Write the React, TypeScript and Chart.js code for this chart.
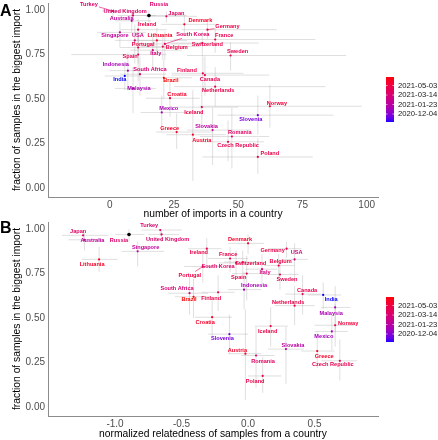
import React, { useEffect, useRef } from "react";
import { Chart, registerables } from "chart.js";
Chart.register(...registerables);

// ---------------- data ----------------
const countries = [
  "Turkey", "United Kingdom", "Russia", "Japan", "Australia", "Ireland", "Denmark", "Germany",
  "France", "Singapore", "USA", "Lithuania", "South Korea", "Portugal", "Belgium", "Switzerland",
  "Sweden", "Italy", "Spain", "Indonesia", "South Africa", "Finland", "Canada", "India", "Brazil",
  "Malaysia", "Netherlands", "Croatia", "Norway", "Slovenia", "Mexico", "Iceland", "Greece",
  "Slovakia", "Austria", "Romania", "Czech Republic", "Poland",
];

const sampleDates = [
  "2021-03-20", "2021-03-25", "2021-03-25", "2021-04-01", "2021-02-01", "2021-04-25", "2021-05-25", "2021-04-25",
  "2021-04-22", "2021-02-05", "2021-03-01", "2021-05-28", "2021-03-28", "2021-04-28", "2021-04-28", "2021-04-25",
  "2021-04-22", "2021-03-05", "2021-04-15", "2021-01-05", "2021-03-15", "2021-04-25", "2021-04-20", "2020-10-23", "2021-06-17",
  "2021-01-08", "2021-04-25", "2021-05-25", "2021-05-10", "2020-11-25", "2021-01-03", "2021-04-28", "2021-05-25",
  "2021-01-28", "2021-05-25", "2021-04-01", "2021-04-20", "2021-04-25",
];

// fraction of samples in the biggest import (shared y)
const fracBiggest = [
  0.995, 0.97, 0.97, 0.965, 0.94, 0.89, 0.92, 0.89,
  0.835, 0.875, 0.83, 0.83, 0.81, 0.79, 0.795, 0.815,
  0.745, 0.775, 0.75, 0.66, 0.64, 0.645, 0.635, 0.63, 0.62,
  0.56, 0.57, 0.505, 0.46, 0.41, 0.425, 0.455, 0.315,
  0.326, 0.30, 0.29, 0.26, 0.175,
];
const fracLow = [
  0.96, 0.93, 0.93, 0.93, 0.88, 0.80, 0.86, 0.84,
  0.76, 0.79, 0.70, 0.76, 0.72, 0.70, 0.72, 0.74,
  0.66, 0.68, 0.60, 0.55, 0.52, 0.54, 0.52, 0.55, 0.50,
  0.42, 0.46, 0.40, 0.34, 0.30, 0.32, 0.34, 0.22,
  0.13, 0.04, 0.11, 0.15, 0.08,
];
const fracHigh = [
  1.0, 0.99, 1.0, 0.99, 0.98, 0.95, 0.97, 0.93,
  0.90, 0.93, 0.92, 0.90, 0.88, 0.87, 0.86, 0.88,
  0.82, 0.86, 0.85, 0.76, 0.74, 0.74, 0.74, 0.70, 0.72,
  0.68, 0.68, 0.60, 0.58, 0.52, 0.52, 0.56, 0.42,
  0.45, 0.55, 0.45, 0.38, 0.28,
];

// panel A: number of imports in a country
const importCount = [
  1.2, 9, 15.2, 22, 8.5, 11, 29, 38,
  41, 3.9, 9.7, 18.3, 21.4, 11, 20.6, 36,
  47, 16.7, 11, 7, 11.7, 36.2, 37, 5.8, 21,
  9, 41, 23.4, 62.3, 57.6, 20.2, 35.8, 26,
  40, 32.3, 47.5, 46, 57.6,
];
const importLow = [
  -3, 3, 8, 14, 2, 4, 20, 28,
  25, -5, 2, 10, 12, 4, 12, 24,
  30, 8, -15, 0, 4, 24, 24, -2, 12,
  2, 25, 14, 35, 42, 12, 25, 18,
  30, 22, 35, 35, 36,
];
const importHigh = [
  8, 18, 30, 34, 16, 22, 42, 65,
  80, 14, 20, 30, 35, 22, 35, 58,
  92, 28, 22, 15, 22, 52, 62, 12, 32,
  18, 84, 35, 98, 87, 30, 50, 40,
  55, 45, 62, 60, 79,
];

// panel B: normalized relatedness of samples from a country
const relatedness = [
  -0.66, -0.65, -0.895, -1.24, -1.23, -0.31, 0.0, 0.29,
  -0.135, -0.83, 0.35, -1.12, -0.09, -0.34, 0.23, -0.04,
  0.24, 0.105, -0.01, -0.03, -0.44, -0.225, 0.41, 0.565, -0.41,
  0.655, 0.35, -0.27, 0.655, -0.14, 0.63, 0.17, 0.52,
  0.285, -0.02, 0.06, 0.69, 0.11,
];
const relatedLow = [
  -0.8, -0.75, -1.0, -1.4, -1.35, -0.45, -0.15, 0.15,
  -0.3, -0.95, 0.25, -1.25, -0.22, -0.48, 0.12, -0.18,
  0.12, -0.02, -0.12, -0.15, -0.6, -0.35, 0.28, 0.45, -0.55,
  0.55, 0.2, -0.4, 0.5, -0.3, 0.5, 0.05, 0.4,
  0.15, -0.15, -0.05, 0.55, 0.0,
];
const relatedHigh = [
  -0.5, -0.52, -0.78, -1.05, -1.1, -0.2, 0.12, 0.4,
  0.0, -0.63, 0.45, -0.98, 0.05, -0.2, 0.35, 0.1,
  0.38, 0.22, 0.1, 0.1, -0.3, -0.1, 0.55, 0.7, -0.28,
  0.77, 0.5, -0.12, 0.8, 0.0, 0.75, 0.3, 0.65,
  0.42, 0.1, 0.2, 0.82, 0.25,
];

const markedCountry = "Russia"; // drawn as black point
const yTicks = [0, 0.25, 0.5, 0.75, 1];
const xTicksA = [0, 25, 50, 75, 100];
const xTicksB = [-1, -0.5, 0, 0.5];
const legendTicks = ["2020-12-04", "2021-01-23", "2021-03-14", "2021-05-03"];

// ---------------- layout (label offsets in px) ----------------
const labelOffsetA: Record<string, [number, number]> = {
  Turkey: [-24, -7], "United Kingdom": [-8, -4], Russia: [10, -11], Japan: [10, -3],
  Australia: [-10, -2], Ireland: [9, -5], Denmark: [16, -4], Germany: [20, -3],
  France: [9, -4], Singapore: [-5, 3], USA: [3, -5], Lithuania: [3, -5],
  "South Korea": [28, -9], Portugal: [5, -3.5], Belgium: [14, 1], Switzerland: [5, 1],
  Sweden: [7, -4], Italy: [3, 3], Spain: [-8, 2], Indonesia: [-12, -6],
  "South Africa": [10, -5], Finland: [-16, -3], Canada: [5, 4], India: [-5, 3],
  Brazil: [7, 3], Malaysia: [6, 0], Netherlands: [3, 4], Croatia: [7, -4],
  Norway: [7, -3], Slovenia: [-7, 4], Mexico: [7, -4], Iceland: [-8, 5],
  Greece: [-7, -4], Slovakia: [-6, -4], Austria: [9, 6], Romania: [8, -4.5],
  "Czech Republic": [10, 4], Poland: [12, -4],
};
const labelOffsetB: Record<string, [number, number]> = {
  Turkey: [-11, -5], "United Kingdom": [6, 5], Russia: [-10, 6], Japan: [-5, -4],
  Australia: [8, 1], Ireland: [-8, 4], Denmark: [-8, -4], Germany: [-14, 2],
  France: [-2, -4.5], Singapore: [8, -4], USA: [2, -7], Lithuania: [-7, 5],
  "South Korea": [-18, 4], Portugal: [-13, 8.5], Belgium: [2, -4.5], Switzerland: [8, 1],
  Sweden: [7, 4.5], Italy: [3, 3], Spain: [-8, 3.5], Indonesia: [10, -4.5],
  "South Africa": [-12.5, -5], Finland: [-7, 6], Canada: [4.5, -4], India: [8, 4],
  Brazil: [-4.5, 3], Malaysia: [-4, 6.5], Netherlands: [-6.5, -3.5], Croatia: [-7, 5],
  Norway: [13, -2], Slovenia: [-7, 4], Mexico: [-8, 4.5], Iceland: [-3, 5],
  Greece: [7, 5], Slovakia: [7, -4], Austria: [-8, -3], Romania: [7, 5.5],
  "Czech Republic": [-7, 4], Poland: [-7.5, 5],
};
const segmentsA = ["Turkey", "Germany", "South Korea"];
const segmentsB = ["Portugal"];

const FONT = "'Liberation Sans', Arial, Helvetica, sans-serif";

// ---------------- colour scale (blue -> red, Lab interpolation) ----------------
function toLin(c: number) {
  c /= 255;
  return c <= 0.04045 ? c / 12.92 : Math.pow((c + 0.055) / 1.055, 2.4);
}
function fromLin(c: number) {
  const v = c <= 0.0031308 ? 12.92 * c : 1.055 * Math.pow(c, 1 / 2.4) - 0.055;
  return Math.round(Math.max(0, Math.min(1, v)) * 255);
}
function rgbToLab(rgb: number[]) {
  const R = toLin(rgb[0]), G = toLin(rgb[1]), B = toLin(rgb[2]);
  const X = (0.4124 * R + 0.3576 * G + 0.1805 * B) / 0.95047;
  const Y = 0.2126 * R + 0.7152 * G + 0.0722 * B;
  const Z = (0.0193 * R + 0.1192 * G + 0.9505 * B) / 1.08883;
  const f = (t: number) => (t > 0.008856 ? Math.cbrt(t) : 7.787 * t + 16 / 116);
  const fx = f(X), fy = f(Y), fz = f(Z);
  return [116 * fy - 16, 500 * (fx - fy), 200 * (fy - fz)];
}
function labToRgb(lab: number[]) {
  const fy = (lab[0] + 16) / 116, fx = fy + lab[1] / 500, fz = fy - lab[2] / 200;
  const inv = (t: number) => (t * t * t > 0.008856 ? t * t * t : (t - 16 / 116) / 7.787);
  const X = inv(fx) * 0.95047, Y = inv(fy), Z = inv(fz) * 1.08883;
  const R = 3.2406 * X - 1.5372 * Y - 0.4986 * Z;
  const G = -0.9689 * X + 1.8758 * Y + 0.0415 * Z;
  const B = 0.0557 * X - 0.204 * Y + 1.057 * Z;
  return [fromLin(R), fromLin(G), fromLin(B)];
}
const LAB_LOW = rgbToLab([0, 0, 255]);
const LAB_HIGH = rgbToLab([255, 0, 0]);
const dateNums = sampleDates.map((d) => Date.parse(d));
const dMin = Math.min(...dateNums);
const dMax = Math.max(...dateNums);
function colorAt(f: number) {
  const lab = LAB_LOW.map((v, k) => v + (LAB_HIGH[k] - v) * f);
  const c = labToRgb(lab);
  return `rgb(${c[0]},${c[1]},${c[2]})`;
}
function dateFrac(d: string) {
  return (Date.parse(d) - dMin) / (dMax - dMin);
}

// ---------------- chart ----------------
function buildChart(canvas: HTMLCanvasElement, panel: "A" | "B") {
  const isA = panel === "A";
  const xs = isA ? importCount : relatedness;
  const xLo = isA ? importLow : relatedLow;
  const xHi = isA ? importHigh : relatedHigh;
  const offsets = isA ? labelOffsetA : labelOffsetB;
  const segs = isA ? segmentsA : segmentsB;
  const xTicks = isA ? xTicksA : xTicksB;
  const colors = sampleDates.map((d) => colorAt(dateFrac(d)));
  const pointColors = countries.map((c, i) => (c === markedCountry ? "#000000" : colors[i]));
  const pointRadius = countries.map((c) => (c === markedCountry ? 1.8 : 1.1));

  const decor = {
    id: "decor" + panel,
    beforeDatasetsDraw(chart: any) {
      const { ctx, chartArea, scales } = chart;
      const sx = scales.x, sy = scales.y;
      ctx.save();
      ctx.beginPath();
      ctx.rect(chartArea.left, chartArea.top, chartArea.right - chartArea.left, chartArea.bottom - chartArea.top);
      ctx.clip();
      ctx.strokeStyle = "rgba(170,170,170,0.38)";
      ctx.lineWidth = 1;
      for (let i = 0; i < countries.length; i++) {
        const px = sx.getPixelForValue(xs[i]);
        const py = sy.getPixelForValue(fracBiggest[i]);
        ctx.beginPath();
        ctx.moveTo(sx.getPixelForValue(xLo[i]), py);
        ctx.lineTo(sx.getPixelForValue(xHi[i]), py);
        ctx.moveTo(px, sy.getPixelForValue(fracLow[i]));
        ctx.lineTo(px, sy.getPixelForValue(fracHigh[i]));
        ctx.stroke();
      }
      ctx.restore();
    },
    afterDatasetsDraw(chart: any) {
      const { ctx, scales } = chart;
      const sx = scales.x, sy = scales.y;
      ctx.save();
      ctx.font = `bold 5.6px ${FONT}`;
      ctx.textAlign = "center";
      ctx.textBaseline = "middle";
      for (let i = 0; i < countries.length; i++) {
        const name = countries[i];
        const px = sx.getPixelForValue(xs[i]);
        const py = sy.getPixelForValue(fracBiggest[i]);
        const off = offsets[name] || [0, -5];
        const lx = px + off[0], ly = py + off[1];
        if (segs.includes(name)) {
          const w = ctx.measureText(name).width / 2 + 1;
          const h = 3.5;
          const dx = px - lx, dy = py - ly;
          const t = Math.min(Math.abs(dx) > 0 ? w / Math.abs(dx) : 1e9, Math.abs(dy) > 0 ? h / Math.abs(dy) : 1e9);
          ctx.strokeStyle = colors[i];
          ctx.lineWidth = 0.6;
          ctx.beginPath();
          ctx.moveTo(lx + dx * Math.min(t, 1), ly + dy * Math.min(t, 1));
          ctx.lineTo(px, py);
          ctx.stroke();
        }
        ctx.fillStyle = colors[i];
        ctx.fillText(name, lx, ly);
      }
      ctx.restore();
    },
    afterDraw(chart: any) {
      const { ctx } = chart;
      ctx.save();
      // colour bar legend
      const bx = 386, bw = 8, top = 77, bottom = 122;
      for (let y = top; y < bottom; y++) {
        const f = (bottom - (y + 0.5)) / (bottom - top);
        ctx.fillStyle = colorAt(f);
        ctx.fillRect(bx, y, bw, 1);
      }
      ctx.font = `7.7px ${FONT}`;
      ctx.textAlign = "left";
      ctx.textBaseline = "middle";
      ctx.strokeStyle = "#ffffff";
      ctx.lineWidth = 0.6;
      for (const t of legendTicks) {
        const y = bottom - dateFrac(t) * (bottom - top);
        ctx.beginPath();
        ctx.moveTo(bx, y);
        ctx.lineTo(bx + 1.6, y);
        ctx.moveTo(bx + bw - 1.6, y);
        ctx.lineTo(bx + bw, y);
        ctx.stroke();
        ctx.fillStyle = "#1a1a1a";
        ctx.fillText(t, bx + bw + 4, y);
      }
      // panel letter
      ctx.font = `bold 16px ${FONT}`;
      ctx.fillStyle = "#000";
      ctx.textAlign = "left";
      ctx.textBaseline = "alphabetic";
      ctx.fillText(panel, 0, isA ? 15.5 : 12.5);
      ctx.restore();
    },
  };

  const tickFont = { family: FONT, size: 10 };
  const titleFont = { family: FONT, size: 10.3, lineHeight: 1 };

  return new Chart(canvas, {
    type: "scatter",
    data: {
      datasets: [
        {
          data: xs.map((x, i) => ({ x, y: fracBiggest[i] })),
          pointRadius,
          pointBackgroundColor: pointColors,
          pointBorderWidth: 0,
          pointHoverRadius: 0,
        },
      ],
    },
    options: {
      animation: false,
      responsive: false,
      devicePixelRatio: 1,
      events: [],
      layout: { padding: { left: 0, top: isA ? 3 : 2, right: 60, bottom: 0 } },
      plugins: { legend: { display: false }, tooltip: { enabled: false } },
      scales: {
        x: {
          type: "linear",
          min: isA ? -24.1 : -1.504,
          max: isA ? 104.4 : 0.977,
          afterBuildTicks: (s: any) => {
            s.ticks = xTicks.map((v) => ({ value: v }));
          },
          afterFit: (s: any) => {
            s.height = isA ? 23 : 24;
            s.paddingLeft = 0;
            s.paddingRight = 0;
          },
          grid: { display: false, drawTicks: false },
          border: { display: true, color: "#8c8c8c", width: 1 },
          ticks: {
            font: tickFont,
            color: "#4d4d4d",
            padding: 2,
            autoSkip: false,
            maxRotation: 0,
            callback: (v: any) => (isA ? String(v) : Number(v).toFixed(1)),
          },
          title: {
            display: true,
            text: isA ? "number of imports in a country" : "normalized relatedness of samples from a country",
            font: titleFont,
            color: "#000",
            padding: { top: 0, bottom: isA ? 0.5 : 1 },
          },
        },
        y: {
          type: "linear",
          min: -0.05,
          max: 1.04,
          afterBuildTicks: (s: any) => {
            s.ticks = yTicks.map((v) => ({ value: v }));
          },
          afterFit: (s: any) => {
            s.width = 48;
            s.paddingTop = 0;
            s.paddingBottom = 0;
          },
          grid: { display: false, drawTicks: false },
          border: { display: true, color: "#8c8c8c", width: 1 },
          ticks: {
            font: tickFont,
            color: "#4d4d4d",
            padding: 3,
            autoSkip: false,
            callback: (v: any) => Number(v).toFixed(2),
          },
          title: {
            display: true,
            text: "fraction of samples in the biggest import",
            font: titleFont,
            color: "#000",
            padding: { top: 12, bottom: 0 },
          },
        },
      },
    },
    plugins: [decor],
  } as any);
}

export default function App() {
  const refA = useRef<HTMLCanvasElement>(null);
  const refB = useRef<HTMLCanvasElement>(null);
  useEffect(() => {
    const a = buildChart(refA.current as HTMLCanvasElement, "A");
    const b = buildChart(refB.current as HTMLCanvasElement, "B");
    return () => {
      a.destroy();
      b.destroy();
    };
  }, []);
  return (
    <div style={{ position: "absolute", left: 0, top: 0, width: 438, height: 440, background: "#ffffff" }}>
      <canvas ref={refA} width={438} height={220} style={{ display: "block", width: 438, height: 220 }} />
      <canvas ref={refB} width={438} height={220} style={{ display: "block", width: 438, height: 220 }} />
    </div>
  );
}
